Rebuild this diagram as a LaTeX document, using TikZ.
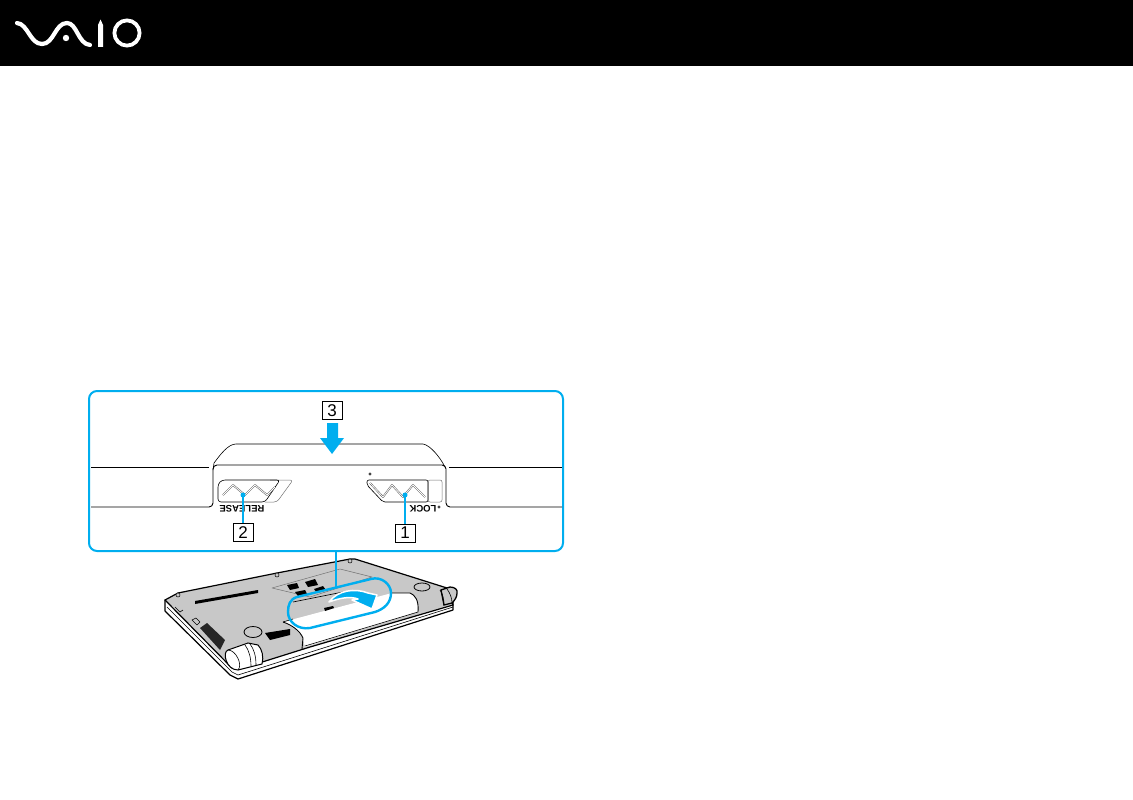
\documentclass[tikz,border=0pt]{standalone}
\usepackage{fontspec}
\setmainfont{Liberation Sans}
\definecolor{vaiocyan}{RGB}{0,174,239}
\definecolor{basegrey}{RGB}{200,200,200}
\tikzset{
    calloutline/.style={vaiocyan,line width=2pt},
    numbox/.style={draw=black,line width=0.8pt,fill=white,minimum width=20pt,minimum height=18pt,inner sep=0pt,font=\fontsize{17}{17}\selectfont},
    upsidedown/.style={rotate=180,inner sep=0pt,font=\fontsize{9.5}{10}\selectfont\bfseries},
    edge/.style={black,line width=0.9pt,line join=round},
    thinedge/.style={black,line width=0.6pt,line join=round},
    greyedge/.style={black!55,line width=0.5pt,line join=round},
    logostroke/.style={white,line width=4.2pt,line cap=round}
}
\begin{document}
\begin{tikzpicture}[x=1pt,y=-1pt]
    \useasboundingbox (0,0) rectangle (1133,800);
    % header
    \fill[black] (0,0) rectangle (1133,66);
    \draw[logostroke] (17,23) .. controls (28,24) and (30,44) .. (42,44) .. controls (54,44) and (55,23) .. (67,23) .. controls (77,23) and (78,44) .. (90,45);
    \fill[white] (66,38) circle (3.2);
    \fill[white] (98,47) -- (98,25) -- (100.5,19.5) -- (103,25) -- (103,47) -- cycle;
    \draw[white,line width=3.8pt] (127,33) circle (12.6);
    % callout
    \draw[calloutline,rounded corners=8pt] (89,391) rectangle (563,551);
    \draw[edge] (91,467) -- (209,467);
    \draw[edge] (449,467) -- (562,467);
    \draw[edge,rounded corners=4pt] (91,507) -- (213,507) -- (213,465) -- (446,465) -- (446,507) -- (562,507);
    \draw[thinedge] (213,470) -- (214,463) .. controls (220,455) and (228,444) .. (236,444) -- (423,444) .. controls (430,445) and (440,457) .. (445,467);
    % arrow 3
    \fill[vaiocyan] (327,423) -- (338,423) -- (338,438) -- (344,438) -- (332,454) -- (320,438) -- (327,438) -- cycle;
    \node[numbox] (box3) at (332,410.5) {3};
    % release slider
    \draw[greyedge,rounded corners=3pt] (270,480) -- (293,480) -- (277,502) -- (265,502);
    \draw[thinedge,rounded corners=3pt] (280,480) -- (222,480) -- (218,484) -- (218,502) -- (265,502) -- cycle;
    \draw[black!70,line width=1.7pt,line join=round] (223,495) -- (233,485) -- (245,495) -- (255,485) -- (267,495) -- (275,487);
    \draw[white,line width=0.8pt,line join=round] (223,495) -- (233,485) -- (245,495) -- (255,485) -- (267,495) -- (275,487);
    \node[upsidedown] (labelrelease) at (242,509) {RELEASE};
    % lock slider
    \draw[greyedge,rounded corners=2pt] (428,480) rectangle (442,502);
    \draw[thinedge,rounded corners=2pt] (428,480) -- (367,480) -- (367,485) -- (383,502) -- (428,502) -- cycle;
    \draw[black!70,line width=1.7pt,line join=round] (370,483) -- (383,497) -- (392,485) -- (403,497) -- (413,485) -- (425,497);
    \draw[white,line width=0.8pt,line join=round] (370,483) -- (383,497) -- (392,485) -- (403,497) -- (413,485) -- (425,497);
    \node[upsidedown] (labellock) at (423,509) {LOCK};
    \draw[thinedge] (439,507) circle (1.2);
    \draw[thinedge] (370,474) circle (1.2);
    % leaders
    \node[numbox] (box2) at (243,532.5) {2};
    \node[numbox] (box1) at (405,533) {1};
    \coordinate (tip2) at (243,495);
    \coordinate (tip1) at (405,495);
    \draw[calloutline] (box2) -- (tip2);
    \draw[calloutline] (box1) -- (tip1);
    \fill[vaiocyan] (tip2) circle (2.5);
    \fill[vaiocyan] (tip1) circle (2.5);
    % laptop base
    \fill[white,draw=black,line width=1.2pt,line join=round] (165,600) -- (165,611) -- (230,675) -- (238,679) -- (453,610) -- (453,600) -- cycle;
    \fill[basegrey,draw=black,line width=1.2pt,line join=round] (165,600) -- (178,593) -- (277,573) -- (350,559) -- (355,559) -- (447,588) -- (453,605) -- (310,647) -- (240,669) -- (232,668) -- cycle;
    \draw[thinedge] (167,607) -- (232,672) -- (238,675) -- (453,607);
    % battery
    \fill[white] (283,622) -- (392,593) -- (410,593) .. controls (415,595) and (419,600) .. (418,612) -- (305,647) -- (302,636) .. controls (297,630) and (290,625) .. (283,622) -- cycle;
    \draw[edge] (283,622) .. controls (292,625) and (300,631) .. (303,638) -- (302,649);
    \draw[edge] (392,593) -- (410,593) .. controls (415,595) and (419,600) .. (418,612);
    \draw[thinedge] (283,622) -- (293,619);
    \draw[thinedge] (305,646) -- (418,612);
    % hinges
    \fill[white,draw=black,line width=1pt] (228,650) -- (248,643) -- (258,645) .. controls (262,649) and (264,657) .. (262,664) -- (238,670) .. controls (226,670) and (222,652) .. (228,650) -- cycle;
    \draw[thinedge] (228,650) .. controls (236,650) and (243,665) .. (238,670);
    \draw[thinedge] (245,645) .. controls (249,650) and (251,658) .. (251,666);
    \draw[thinedge] (250,644) .. controls (254,649) and (256,656) .. (256,665);
    \fill[basegrey,draw=black,line width=1.3pt] (441,590) -- (450,587) .. controls (455,587) and (458,590) .. (457,593) .. controls (457,597) and (455,600) .. (452,603) -- (444,605) -- cycle;
    \draw[thinedge] (440,590) .. controls (443,594) and (444,600) .. (444,605);
    \draw[thinedge] (447,589) .. controls (450,593) and (452,598) .. (452,603);
    % details
    \fill[basegrey,draw=black,line width=0.8pt] (253,632) ellipse (9 and 5.5);
    \fill[basegrey,draw=black,line width=0.8pt] (422,587) ellipse (8 and 4);
    \fill[black] (195,601) -- (258,590) -- (258,593) -- (195,604) -- cycle;
    \fill[black!85] (200,628) -- (207,623) -- (225,640) -- (220,650) -- cycle;
    \fill[black] (265,633) -- (290,629) -- (290,635) -- (270,640) -- cycle;
    \draw[thinedge] (175,607) -- (180,612) -- (183,610);
    \draw[thinedge] (192,620) -- (197,625) -- (200,622) -- (196,618) -- cycle;
    \fill[basegrey,draw=black,line width=0.5pt] (178,595) circle (2);
    \fill[basegrey,draw=black,line width=0.5pt] (277,575) circle (2);
    \fill[basegrey,draw=black,line width=0.5pt] (350,561) circle (2);
    % compartment
    \draw[greyedge] (272,588) -- (340,569) -- (372,577) -- (310,597) -- cycle;
    \fill[black] (287,585) -- (297,583) -- (299,588) -- (290,590) -- cycle;
    \fill[black] (305,582) -- (315,579) -- (318,585) -- (308,587) -- cycle;
    \fill[black] (295,592) -- (305,590) -- (307,594) -- (298,596) -- cycle;
    \fill[black] (314,589) -- (323,586) -- (326,590) -- (317,593) -- cycle;
    \draw[thinedge] (293,602) -- (343,592);
    \fill[black] (324,608) -- (333,606) -- (334,608) -- (325,611) -- cycle;
    % pill
    \coordinate (linktop) at (336,551);
    \coordinate (linkend) at (336,587);
    \draw[calloutline,line width=1.6pt] (linktop) -- (linkend);
    \draw[calloutline,line width=2.4pt] (297,597) -- (371,579) .. controls (381,576) and (391,584) .. (391,593) .. controls (391,603) and (384,609) .. (375,612) -- (310,628) .. controls (298,630) and (288,622) .. (288,612) .. controls (288,605) and (290,599) .. (297,597) -- cycle;
    % turning arrow
    \fill[vaiocyan,draw=white,line width=1.5pt,line join=round] (329,602) .. controls (338,590) and (355,588) .. (368,593) -- (377,595) -- (372,609) -- (352,600) -- (358,599) .. controls (350,596) and (340,598) .. (329,602) -- cycle;
\end{tikzpicture}
\end{document}
